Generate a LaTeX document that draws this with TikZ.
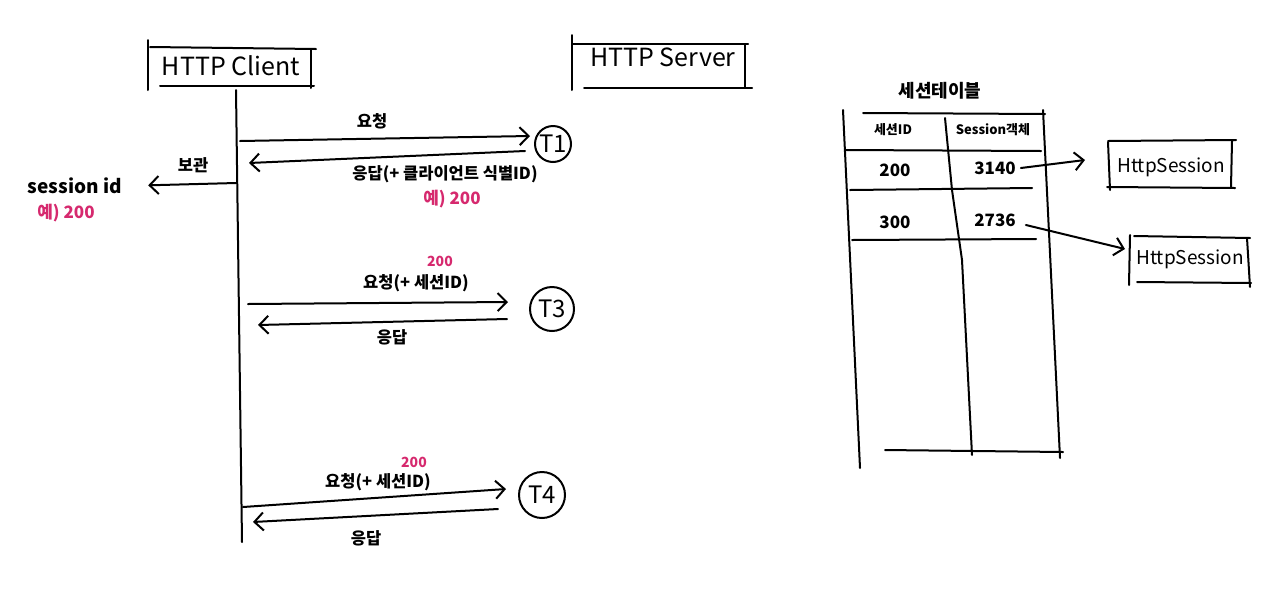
\documentclass[tikz,border=0pt]{standalone}
\usepackage{fontspec}
\setmainfont{Noto Sans CJK KR}
\usetikzlibrary{arrows.meta}
\definecolor{hpink}{RGB}{214,41,110}
\begin{document}
\begin{tikzpicture}[x=1pt,y=-1pt,
  pen/.style={line width=2pt, line cap=round, black},
  arr/.style={pen, -{Straight Barb[length=9pt,width=18pt,line width=2pt]}},
  lbl/.style={font=\fontsize{16.5}{18}\selectfont\bfseries, inner sep=0pt},
  pinklbl/.style={inner sep=0pt, text=hpink, font=\fontsize{17}{19}\selectfont\bfseries},
  tcirc/.style={circle, draw, line width=2pt, inner sep=0pt, font=\fontsize{24}{26}\selectfont},
  boxtitle/.style={font=\fontsize{25}{27}\selectfont, inner sep=0pt},
  cell/.style={font=\fontsize{17}{19}\selectfont\bfseries, inner sep=0pt},
  small/.style={font=\fontsize{13}{15}\selectfont\bfseries, inner sep=0pt},
  hsbox/.style={font=\fontsize{19}{21}\selectfont, inner sep=0pt},
]
\useasboundingbox[fill=white] (0,0) rectangle (1282,590);

% HTTP Client box
\node[boxtitle] (client) at (231,66) {HTTP Client};
\draw[pen] (148,40) -- (148,90);
\draw[pen] (150,47) -- (316,49);
\draw[pen] (160,86) -- (314,86);
\draw[pen] (311,50) -- (311,88);

% HTTP Server box
\node[boxtitle] (server) at (663,57) {HTTP Server};
\draw[pen] (572,35) -- (572,90);
\draw[pen] (573,44) -- (748,44);
\draw[pen] (584,88) -- (752,88);
\draw[pen] (745,45) -- (745,87);

% lifeline
\coordinate (ltop) at (236,90);
\coordinate (lbot) at (242,542);
\draw[pen] (ltop) -- (lbot);

% T1
\node[tcirc, minimum size=36pt] (T1) at (553,144) {T1};
\coordinate (a1s) at (240,141);
\draw[arr] (a1s) -- (530,136);
\node[lbl] (req1) at (372,121) {요청};
\coordinate (r1s) at (525,151);
\coordinate (r1e) at (249,163);
\draw[arr] (r1s) -- (r1e);
\node[lbl] (resp1) at (445,174) {응답(+ 클라이언트 식별ID)};
\node[pinklbl] (ex1) at (452,199) {예) 200};

% session id store
\node[lbl] (keep) at (193,165) {보관};
\node[lbl, font=\fontsize{19}{21}\selectfont\bfseries] (sess) at (75,186) {session id};
\node[pinklbl] (ex0) at (66,213) {예) 200};
\coordinate (s0) at (236,183);
\draw[arr, shorten >=26pt] (s0) -- (sess.east);

% T3
\node[tcirc, minimum size=44pt] (T3) at (552,309) {T3};
\coordinate (a3s) at (248,304);
\coordinate (a3e) at (508,302);
\draw[arr] (a3s) -- (a3e);
\node[lbl] (req3) at (416,283) {요청(+ 세션ID)};
\node[pinklbl, font=\fontsize{14}{16}\selectfont\bfseries] (n3) at (440,261) {200};
\coordinate (r3s) at (507,319);
\coordinate (r3e) at (258,325);
\draw[arr] (r3s) -- (r3e);
\node[lbl] (resp3) at (392,337) {응답};

% T4
\node[tcirc, minimum size=46pt] (T4) at (542,495) {T4};
\coordinate (a4s) at (243,507);
\coordinate (a4e) at (506,489);
\draw[arr] (a4s) -- (a4e);
\node[lbl] (req4) at (378,482) {요청(+ 세션ID)};
\node[pinklbl, font=\fontsize{14}{16}\selectfont\bfseries] (n4) at (414,462) {200};
\coordinate (r4s) at (498,509);
\coordinate (r4e) at (253,522);
\draw[arr] (r4s) -- (r4e);
\node[lbl] (resp4) at (366,538) {응답};

% Session table
\node[lbl, font=\fontsize{18}{20}\selectfont\bfseries] (ttitle) at (940,91) {세션테이블};
\draw[pen] (843,110) -- (860,468);
\draw[pen] (863,113) -- (1045,114);
\draw[pen] (1043,110) -- (1060,458);
\draw[pen] (945,118) -- (952,190) -- (962,260) -- (972,455);
\draw[pen] (846,150) -- (1041,151);
\draw[pen] (850,190) -- (1032,188);
\draw[pen] (852,240) -- (1036,239);
\draw[pen] (885,450) -- (1063,452);
\node[small] (h1) at (893,130) {세션ID};
\node[small] (h2) at (993,130) {Session객체};
\node[cell] (c11) at (895,170) {200};
\node[cell] (c12) at (995,168) {3140};
\node[cell] (c21) at (895,222) {300};
\node[cell] (c22) at (995,220) {2736};

% HttpSession boxes
\node[hsbox] (hs1) at (1171,167) {HttpSession};
\draw[pen] (1108,142) -- (1110,190);
\draw[pen] (1108,141) -- (1236,140);
\draw[pen] (1107,187) -- (1235,188);
\draw[pen] (1232,141) -- (1231,187);
\draw[arr] (c12.east) ++(5,0) -- (1085,160);

\node[hsbox] (hs2) at (1190,259) {HttpSession};
\draw[pen] (1130,235) -- (1129,285);
\draw[pen] (1134,236) -- (1250,238);
\draw[pen] (1137,282) -- (1251,283);
\draw[pen] (1247,238) -- (1250,287);
\draw[arr] (c22.east) ++(10,5) -- (1125,249);
\end{tikzpicture}
\end{document}
